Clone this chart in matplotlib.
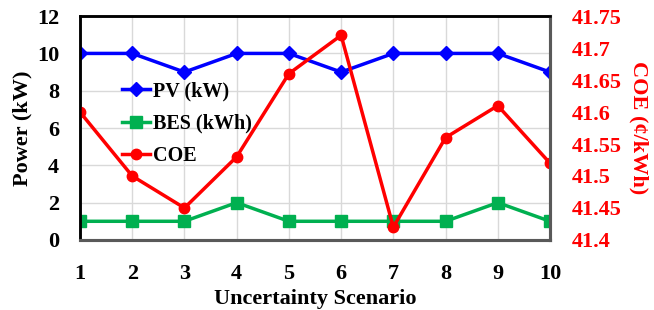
"""Power and COE across uncertainty scenarios."""

import matplotlib
matplotlib.use("Agg")
import matplotlib.pyplot as plt

scenarios = [1, 2, 3, 4, 5, 6, 7, 8, 9, 10]
pv_kw = [10, 10, 9, 10, 10, 9, 10, 10, 10, 9]
bes_kwh = [1, 1, 1, 2, 1, 1, 1, 1, 2, 1]
coe = [41.60, 41.50, 41.45, 41.53, 41.66, 41.72, 41.42, 41.56, 41.61, 41.52]

power_ticks = [0, 2, 4, 6, 8, 10, 12]
coe_ticks = [41.4, 41.45, 41.5, 41.55, 41.6, 41.65, 41.7, 41.75]

plt.rcParams["font.family"] = ["Liberation Serif", "DejaVu Serif"]
plt.rcParams["font.weight"] = "bold"

fig = plt.figure(figsize=(6.54, 3.10), dpi=100)
ax = fig.add_axes([0.1223, 0.226, 0.7187, 0.722])
ax2 = ax.twinx()

l1, = ax.plot(scenarios, pv_kw, color="#0000FF", lw=2.5, marker="D", ms=7, label="PV (kW)")
l2, = ax.plot(scenarios, bes_kwh, color="#00B050", lw=2.5, marker="s", ms=8, label="BES (kWh)")
l3, = ax2.plot(scenarios, coe, color="#FF0000", lw=2.5, marker="o", ms=7.5, label="COE")

ax.set_xlim(1, 10)
ax.set_ylim(0, 12)
ax.set_xticks(scenarios)
ax.set_yticks(power_ticks)
ax2.set_ylim(41.4, 41.75)
ax2.set_yticks(coe_ticks)
ax2.set_yticklabels([f"{v:g}" for v in coe_ticks])

ax.grid(True, color="#D9D9D9", lw=1)
ax.set_axisbelow(True)

ax.tick_params(axis="both", length=0, labelsize=16)
ax.tick_params(axis="x", pad=17)
ax.tick_params(axis="y", pad=15)
ax2.tick_params(axis="y", length=0, labelsize=16, labelcolor="#FF0000", pad=16)

ax.set_xlabel("Uncertainty Scenario", fontsize=16, fontweight="bold", labelpad=4)
ax.set_ylabel("Power (kW)", fontsize=16, fontweight="bold", labelpad=3)
ax2.set_ylabel("COE (¢/kWh)", fontsize=16, fontweight="bold", color="#FF0000",
               rotation=-90, labelpad=19)

for a in (ax, ax2):
    a.spines["top"].set_color("black")
    a.spines["left"].set_color("black")
    a.spines["right"].set_color("#595959")
    a.spines["bottom"].set_color("#595959")
    a.spines["top"].set_linewidth(1.8)
    a.spines["left"].set_linewidth(1.8)
    a.spines["right"].set_linewidth(2.2)
    a.spines["bottom"].set_linewidth(2.2)

ax2.legend(handles=[l1, l2, l3], loc="upper left", bbox_to_anchor=(0.072, 0.745),
           frameon=False, fontsize=14.5, handlelength=1.4, handletextpad=0.15,
           labelspacing=0.62, borderaxespad=0)

fig.savefig("out.png", dpi=100)
